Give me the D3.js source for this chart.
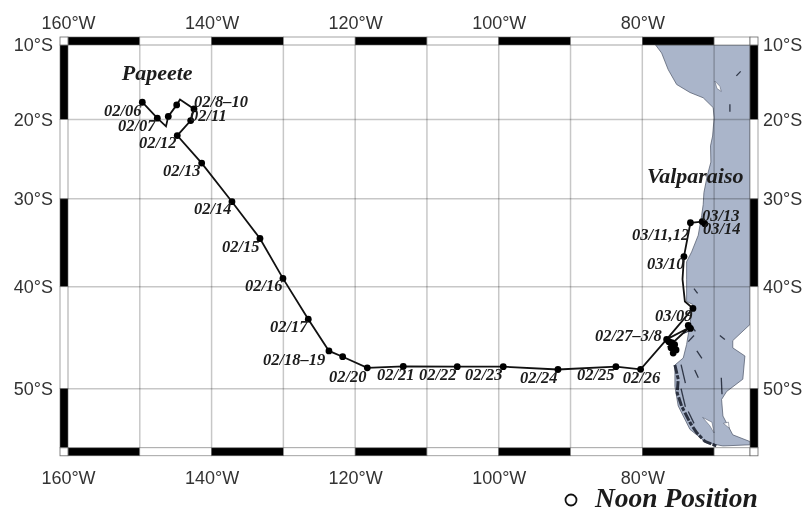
<!DOCTYPE html>
<html>
<head>
<meta charset="utf-8">
<script src="https://cdn.jsdelivr.net/npm/d3@7"></script>
<style>
html, body { margin: 0; padding: 0; background: #fff; }
svg { display: block; filter: blur(0.5px); }
.tick text { font-family: "Liberation Sans", sans-serif; font-size: 18px; fill: #333; }
.serif { font-family: "Liberation Serif", serif; font-weight: bold; font-style: italic; fill: #1c1c1c; }
</style>
</head>
<body>
<svg id="map" width="811" height="513"></svg>
<script>
// ticks and frame bands
const lonTicks = [-160, -140, -120, -100, -80];
const lonTickLabels = ["160°W", "140°W", "120°W", "100°W", "80°W"];
const latTicks = [10, 20, 30, 40, 50];
const latTickLabels = ["10°S", "20°S", "30°S", "40°S", "50°S"];
const lonGrid = [-150, -140, -130, -120, -110, -100, -90, -80, -70];
const latGrid = [20, 30, 40, 50];
const lonBands = [-160, -150, -140, -130, -120, -110, -100, -90, -80, -70, -65];
const latBands = [10, 20, 30, 40, 50, 55];

// noon positions [lon, lat]
const noonPositions = [
    [-149.65, 17.73], [-147.56, 19.83], [-146.03, 19.6], [-144.86, 18.08], [-142.45, 18.62],
    [-142.91, 20.14], [-144.78, 22.09], [-141.38, 25.6], [-137.16, 30.34], [-133.26, 34.66],
    [-130.06, 39.1], [-126.53, 43.37], [-123.65, 46.5], [-121.74, 47.05], [-118.31, 48.09],
    [-113.3, 47.96], [-105.78, 47.99], [-99.37, 47.99], [-91.75, 48.25], [-83.68, 47.99],
    [-80.24, 48.23], [-76.61, 45.38], [-76.3, 45.6], [-76.0, 46.2], [-75.7, 46.7], [-75.5, 45.9],
    [-75.3, 46.4], [-75.9, 45.7], [-73.6, 44.0], [-73.3, 44.3], [-72.95, 42.27], [-74.2, 36.71],
    [-73.3, 32.84], [-71.66, 32.7], [-71.3, 32.96]
];
// ship track, noon positions plus the turns between them
const track = [
    [-149.65, 17.73], [-147.56, 19.83], [-146.35, 20.9], [-146.03, 19.6], [-144.86, 18.08],
    [-144.4, 17.37], [-142.45, 18.62], [-142.91, 20.14], [-144.78, 22.09], [-141.38, 25.6],
    [-137.16, 30.34], [-133.26, 34.66], [-130.06, 39.1], [-126.53, 43.37], [-123.65, 46.5],
    [-121.74, 47.05], [-118.31, 48.09], [-113.3, 47.96], [-105.78, 47.99], [-99.37, 47.99],
    [-91.75, 48.25], [-83.68, 47.99], [-80.24, 48.23], [-76.61, 45.38], [-76.3, 45.6],
    [-76.0, 46.2], [-75.7, 46.7], [-75.5, 45.9], [-76.2, 46.0], [-73.51, 44.23], [-76.61, 45.38],
    [-72.95, 42.27], [-74.07, 41.55], [-74.4, 39.2], [-74.2, 36.71], [-73.3, 32.84], [-71.66, 32.7],
    [-71.3, 32.96]
];

// South America coast, clipped at the frame
const land = [
    [-78.15, 10], [-77.31, 11.1], [-76.4, 13.35], [-75.22, 15.36], [-73.37, 16.43], [-71.52, 17.14],
    [-70.13, 18.44], [-70.0, 19.8], [-70.21, 22.15], [-70.5, 23.41], [-70.45, 25.47], [-70.96, 27.2],
    [-71.42, 29.24], [-71.52, 30.68], [-71.74, 32.01], [-72.21, 34.29], [-73.13, 36.18], [-73.83, 37.28],
    [-73.83, 39.2], [-73.83, 41.54], [-72.95, 41.87], [-73.37, 43.9], [-73.83, 45.87], [-74.3, 47.17],
    [-75.46, 47.83], [-75.46, 49.8], [-75.0, 51.52], [-73.37, 53.5], [-71.04, 54.6], [-68.77, 54.85],
    [-65, 54.76], [-65, 54.5], [-67.4, 53.95], [-68.77, 52.38], [-68.96, 50.95], [-68.26, 50.25],
    [-66.0, 49.14], [-65.71, 46.98], [-67.4, 46.2], [-67.4, 45.5], [-65, 43.9], [-65, 10]
];
const fjords = [
    [-75.46, 47.83], [-75, 49.14], [-75.14, 50.38], [-74.53, 51.52], [-73.37, 52.92],
    [-72.44, 53.77], [-71.28, 54.48], [-69.65, 54.85]
];
const islands = [
    [[-72.4, 46.5], [-71.7, 47.2]],
    [[-72.7, 48.3], [-72.2, 49.0]],
    [[-69.2, 45.0], [-68.5, 45.4]],
    [[-73.2, 44.0], [-72.6, 44.6]],
    [[-72.8, 40.2], [-72.3, 40.7]],
    [[-74.6, 47.8], [-74.0, 49.5]],
    [[-74.6, 50.0], [-74.0, 51.6]],
    [[-73.6, 52.0], [-72.8, 53.0]],
    [[-74.3, 44.8], [-73.0, 44.4]],
    [[-73.6, 45.6], [-72.8, 45.0]],
    [[-69.0, 49.0], [-68.9, 50.5]],
    [[-66.9, 14.2], [-66.3, 13.6]],
    [[-67.8, 18.0], [-67.8, 19.0]]
];
const lakes = [
    [[-69.9, 14.9], [-69.2, 15.6], [-69.0, 16.3], [-69.6, 15.9]],
    [[-71.6, 52.5], [-70.3, 52.9], [-70.0, 53.8], [-70.6, 53.2]],
    [[-68.7, 53.0], [-68.0, 52.9], [-67.9, 53.4]]
];

const dateLabels = ["02/06", "02/07", "02/8–10", "02/11", "02/12", "02/13", "02/14", "02/15", "02/16", "02/17",
    "02/18–19", "02/20", "02/21", "02/22", "02/23", "02/24", "02/25", "02/26", "02/27–3/8", "03/09", "03/10",
    "03/11,12", "03/13", "03/14"];
const dateLabelLon = [-154.99, -153.04, -142.45, -143.0, -150.11, -146.77, -142.45, -138.55, -135.35, -131.87,
    -132.84, -123.65, -116.96, -111.11, -104.71, -97.05, -89.11, -82.73, -86.6, -78.25, -79.36, -81.45, -71.7, -71.56];
const dateLabelLat = [19.52, 21.44, 18.31, 20.18, 23.7, 27.23, 31.82, 36.14, 40.4, 44.62,
    47.86, 49.43, 49.24, 49.24, 49.24, 49.53, 49.24, 49.53, 45.5, 43.54, 38.08, 34.78, 32.62, 34.1];
const placeNames = ["Papeete", "Valparaiso"];
const placeLon = [-152.52, -79.36];
const placeLat = [14.79, 28.11];
const legendLabel = "Noon Position";

const svg = d3.select("#map");
const merc = lat => Math.log(Math.tan(Math.PI / 4 + lat * Math.PI / 360));
const x = d3.scaleLinear().domain([-160, -65]).range([68, 750]);
const yM = d3.scaleLinear().domain([merc(10), merc(55)]).range([45, 447.8]);
const y = lat => yM(merc(lat));
const outer = 8;
const left = x(-160), right = x(-65), top_ = y(10), bottom = y(55);

const line = d3.line().x(d => x(d[0])).y(d => y(d[1]));

svg.append("path").attr("d", line(land) + "Z").attr("fill", "#aab5ca").attr("stroke", "#4a5366").attr("stroke-width", 0.7);
svg.append("path").attr("d", line(fjords)).attr("fill", "none").attr("stroke", "#2b3140").attr("stroke-width", 3)
    .attr("stroke-dasharray", "9 1.5 4 2");
svg.selectAll(".island").data(islands).enter().append("path").attr("class", "island")
    .attr("d", line).attr("fill", "none").attr("stroke", "#2f3646").attr("stroke-width", 1.3);
svg.selectAll(".lake").data(lakes).enter().append("path").attr("class", "lake")
    .attr("d", d => line(d) + "Z").attr("fill", "#fff").attr("stroke", "#4a5366").attr("stroke-width", 0.5);

// graticule
svg.selectAll(".glon").data(lonGrid).enter().append("line").attr("class", "glon")
    .attr("x1", d => x(d)).attr("x2", d => x(d)).attr("y1", top_).attr("y2", bottom)
    .attr("stroke", "#000").attr("stroke-opacity", 0.22).attr("stroke-width", 1.5);
svg.selectAll(".glat").data(latGrid).enter().append("line").attr("class", "glat")
    .attr("x1", left).attr("x2", right).attr("y1", d => y(d)).attr("y2", d => y(d))
    .attr("stroke", "#000").attr("stroke-opacity", 0.22).attr("stroke-width", 1.5);

// checkered frame
d3.pairs(lonBands).forEach((b, i) => {
    [top_ - outer, bottom].forEach(yy => {
        svg.append("rect").attr("x", x(b[0])).attr("y", yy).attr("width", x(b[1]) - x(b[0])).attr("height", outer)
            .attr("fill", i % 2 ? "#fff" : "#000").attr("stroke", "#666").attr("stroke-width", 0.6);
    });
});
d3.pairs(latBands).forEach((b, i) => {
    [left - outer, right].forEach(xx => {
        svg.append("rect").attr("x", xx).attr("y", y(b[0])).attr("width", outer).attr("height", y(b[1]) - y(b[0]))
            .attr("fill", i % 2 ? "#fff" : "#000").attr("stroke", "#666").attr("stroke-width", 0.6);
    });
});
[[left - outer, top_ - outer], [right, top_ - outer], [left - outer, bottom], [right, bottom]].forEach(c => {
    svg.append("rect").attr("x", c[0]).attr("y", c[1]).attr("width", outer).attr("height", outer)
        .attr("fill", "#fff").attr("stroke", "#666").attr("stroke-width", 0.8);
});

// axes
const fmtLon = (d, i) => lonTickLabels[i];
const fmtLat = (d, i) => latTickLabels[i];
const latVals = latTicks.map(merc);
const axes = [
    d3.axisTop(x).tickValues(lonTicks).tickFormat(fmtLon).tickSize(0).tickPadding(8),
    d3.axisBottom(x).tickValues(lonTicks).tickFormat(fmtLon).tickSize(0).tickPadding(15),
    d3.axisLeft(yM).tickValues(latVals).tickFormat(fmtLat).tickSize(0).tickPadding(7),
    d3.axisRight(yM).tickValues(latVals).tickFormat(fmtLat).tickSize(0).tickPadding(5)
];
const axisAt = [[0, top_ - outer], [0, bottom + outer], [left - outer, 0], [right + outer, 0]];
axes.forEach((a, i) => {
    const g = svg.append("g").attr("transform", `translate(${axisAt[i]})`).call(a);
    g.select(".domain").remove();
});

// track
svg.append("path").attr("d", line(track)).attr("fill", "none").attr("stroke", "#111").attr("stroke-width", 1.8);
svg.selectAll(".noon").data(noonPositions).enter().append("circle").attr("class", "noon")
    .attr("cx", d => x(d[0])).attr("cy", d => y(d[1])).attr("r", 3.4).attr("fill", "#000");

// labels
svg.selectAll(".date").data(dateLabels).enter().append("text").attr("class", "date serif")
    .attr("x", (d, i) => x(dateLabelLon[i])).attr("y", (d, i) => y(dateLabelLat[i]))
    .attr("font-size", 16.5).text(d => d);

svg.selectAll(".place").data(placeNames).enter().append("text").attr("class", "place serif")
    .attr("x", (d, i) => x(placeLon[i])).attr("y", (d, i) => y(placeLat[i]))
    .attr("font-size", 22).text(d => d);

// legend
svg.append("circle").attr("cx", 571).attr("cy", 500).attr("r", 5.5).attr("fill", "#fff").attr("stroke", "#111").attr("stroke-width", 1.8);
svg.append("text").attr("class", "serif").attr("x", 595).attr("y", 507).attr("font-size", 27.5).text(legendLabel);
</script>
</body>
</html>
